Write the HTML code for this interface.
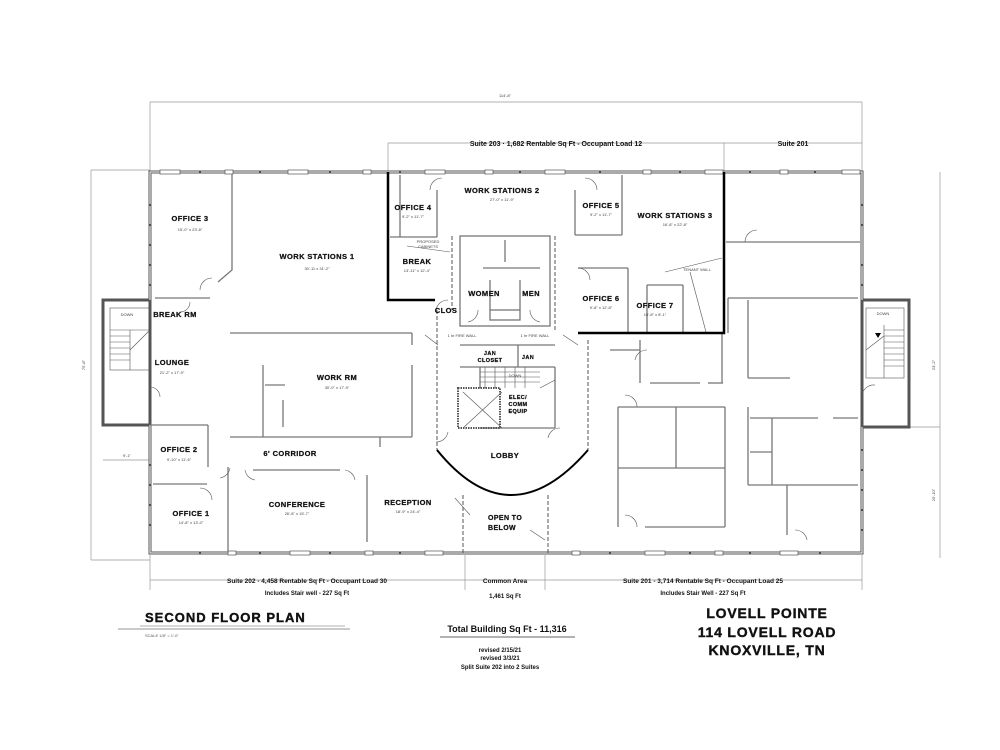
<!DOCTYPE html>
<html><head><meta charset="utf-8"><style>
html,body{margin:0;padding:0;background:#fff}
svg{display:block}
text{font-family:"Liberation Sans",sans-serif;fill:#111}
.b{font-weight:bold;font-size:7.5px;text-anchor:middle;letter-spacing:0.4px;stroke:#111;stroke-width:0.25}
.s{font-size:4px;text-anchor:middle;fill:#444}
.w{fill:none;stroke:#555;stroke-width:3}
.wi{fill:none;stroke:#fff;stroke-width:1}
.p{fill:none;stroke:#777;stroke-width:1.3}
.th{fill:none;stroke:#000;stroke-width:2.5}
.d{fill:none;stroke:#555;stroke-width:0.6}
.dim{fill:none;stroke:#999;stroke-width:0.7}
</style></head><body>
<svg width="1000" height="750" viewBox="0 0 1000 750" xmlns="http://www.w3.org/2000/svg">
<g class="dim">
<line x1="150" y1="102" x2="862" y2="102"/>
<line x1="150" y1="102" x2="150" y2="172"/><line x1="862" y1="102" x2="862" y2="172"/>
<line x1="388" y1="143" x2="862" y2="143"/>
<line x1="388" y1="143" x2="388" y2="172"/><line x1="724" y1="143" x2="724" y2="172"/>
<line x1="91" y1="170" x2="91" y2="560"/><line x1="91" y1="170" x2="150" y2="170"/>
<line x1="91" y1="560" x2="150" y2="560"/>
<line x1="940" y1="172" x2="940" y2="558"/><line x1="909" y1="427" x2="940" y2="427"/>
<line x1="150" y1="580" x2="862" y2="580"/>
<line x1="150" y1="555" x2="150" y2="590"/><line x1="862" y1="555" x2="862" y2="590"/>
<line x1="465" y1="555" x2="465" y2="590"/><line x1="545" y1="555" x2="545" y2="590"/>
<line x1="103" y1="460" x2="150" y2="460"/>
</g>
<text x="505" y="97" class="s">114'-8"</text>
<text x="85" y="365" class="s" transform="rotate(-90 85 365)">75'-8"</text>
<text x="935" y="365" class="s" transform="rotate(-90 935 365)">23'-2"</text>
<text x="935" y="495" class="s" transform="rotate(-90 935 495)">25'-10"</text>
<text x="127" y="457" class="s">9'-1"</text>

<g class="w">
<polyline points="150,300 150,172 862,172 862,300"/>
<polyline points="150,425 150,553 862,553 862,427"/>
<rect x="103" y="300" width="47" height="125"/>
<rect x="862" y="300" width="47" height="127"/>
</g>
<g class="wi">
<polyline points="150,300 150,172 862,172 862,300"/>
<polyline points="150,425 150,553 862,553 862,427"/>
</g>
<g fill="#fff" stroke="#555" stroke-width="0.7">
<rect x="160" y="170" width="20" height="4"/><rect x="225" y="170" width="8" height="4"/>
<rect x="288" y="170" width="20" height="4"/><rect x="363" y="170" width="8" height="4"/>
<rect x="425" y="170" width="20" height="4"/><rect x="485" y="170" width="8" height="4"/>
<rect x="545" y="170" width="20" height="4"/><rect x="643" y="170" width="8" height="4"/>
<rect x="705" y="170" width="18" height="4"/><rect x="780" y="170" width="8" height="4"/>
<rect x="842" y="170" width="18" height="4"/>
<rect x="228" y="551" width="8" height="4"/><rect x="290" y="551" width="20" height="4"/>
<rect x="365" y="551" width="8" height="4"/><rect x="425" y="551" width="18" height="4"/>
<rect x="572" y="551" width="8" height="4"/><rect x="645" y="551" width="20" height="4"/>
<rect x="715" y="551" width="8" height="4"/><rect x="780" y="551" width="18" height="4"/>
</g>
<g fill="#444">
<circle cx="150" cy="205" r="1"/><circle cx="150" cy="225" r="1"/><circle cx="150" cy="245" r="1"/><circle cx="150" cy="265" r="1"/><circle cx="150" cy="285" r="1"/>
<circle cx="150" cy="465" r="1"/><circle cx="150" cy="485" r="1"/><circle cx="150" cy="505" r="1"/><circle cx="150" cy="525" r="1"/>
<circle cx="862" cy="205" r="1"/><circle cx="862" cy="225" r="1"/><circle cx="862" cy="265" r="1"/><circle cx="862" cy="285" r="1"/>
<circle cx="862" cy="450" r="1"/><circle cx="862" cy="470" r="1"/><circle cx="862" cy="490" r="1"/><circle cx="862" cy="510" r="1"/><circle cx="862" cy="530" r="1"/>
<circle cx="200" cy="172" r="1"/><circle cx="260" cy="172" r="1"/><circle cx="330" cy="172" r="1"/><circle cx="400" cy="172" r="1"/><circle cx="520" cy="172" r="1"/><circle cx="600" cy="172" r="1"/><circle cx="680" cy="172" r="1"/><circle cx="750" cy="172" r="1"/><circle cx="815" cy="172" r="1"/>
<circle cx="200" cy="553" r="1"/><circle cx="260" cy="553" r="1"/><circle cx="330" cy="553" r="1"/><circle cx="400" cy="553" r="1"/><circle cx="610" cy="553" r="1"/><circle cx="690" cy="553" r="1"/><circle cx="750" cy="553" r="1"/><circle cx="820" cy="553" r="1"/>
</g>
<g class="d">
<rect x="110" y="308" width="40" height="62"/>
<line x1="110" y1="330" x2="150" y2="330"/><line x1="110" y1="336" x2="130" y2="336"/>
<line x1="110" y1="342" x2="130" y2="342"/><line x1="110" y1="348" x2="130" y2="348"/>
<line x1="110" y1="354" x2="130" y2="354"/><line x1="110" y1="360" x2="130" y2="360"/>
<line x1="130" y1="330" x2="130" y2="370"/><line x1="130" y1="350" x2="150" y2="330"/>
<rect x="866" y="308" width="38" height="70"/>
<line x1="884" y1="330" x2="904" y2="330"/><line x1="884" y1="336" x2="904" y2="336"/>
<line x1="884" y1="342" x2="904" y2="342"/><line x1="884" y1="348" x2="904" y2="348"/>
<line x1="884" y1="354" x2="904" y2="354"/><line x1="884" y1="360" x2="904" y2="360"/>
<line x1="884" y1="366" x2="904" y2="366"/><line x1="884" y1="325" x2="884" y2="378"/>
<line x1="866" y1="350" x2="884" y2="336"/>
</g>
<text x="127" y="316" class="s">DOWN</text><text x="883" y="315" class="s">DOWN</text>
<polygon points="875,333 881,333 878,338" fill="#000"/>

<g class="p">
<polyline points="232,174 232,270 218,282"/>
<line x1="155" y1="298" x2="210" y2="298"/>
<line x1="230" y1="333" x2="412" y2="333"/><line x1="412" y1="333" x2="412" y2="345"/>
<line x1="263" y1="365" x2="263" y2="437"/><line x1="265" y1="385" x2="285" y2="385"/>
<line x1="283" y1="400" x2="283" y2="427"/>
<line x1="230" y1="437" x2="412" y2="437"/><line x1="412" y1="365" x2="412" y2="437"/>
<line x1="380" y1="437" x2="380" y2="447"/>
<line x1="150" y1="425" x2="208" y2="425"/><line x1="208" y1="425" x2="208" y2="467"/>
<line x1="153" y1="484" x2="207" y2="484"/>
<line x1="228" y1="467" x2="228" y2="553"/>
<line x1="253" y1="470" x2="340" y2="470"/>
<line x1="367" y1="475" x2="367" y2="542"/>
<line x1="400" y1="175" x2="400" y2="237"/><line x1="390" y1="237" x2="437" y2="237"/>
<line x1="437" y1="190" x2="437" y2="237"/>
<line x1="575" y1="190" x2="575" y2="235"/><line x1="575" y1="235" x2="622" y2="235"/>
<line x1="622" y1="175" x2="622" y2="235"/>
<line x1="578" y1="268" x2="628" y2="268"/><line x1="628" y1="268" x2="628" y2="333"/>
<line x1="647" y1="285" x2="683" y2="285"/><line x1="647" y1="285" x2="647" y2="333"/>
<line x1="683" y1="285" x2="683" y2="333"/>
<line x1="726" y1="242" x2="860" y2="242"/>
<line x1="728" y1="298" x2="728" y2="333"/><line x1="728" y1="298" x2="858" y2="298"/>
<line x1="650" y1="383" x2="700" y2="383"/><line x1="708" y1="383" x2="723" y2="383"/>
<line x1="722" y1="333" x2="722" y2="383"/>
<line x1="618" y1="407" x2="725" y2="407"/><line x1="725" y1="407" x2="725" y2="527"/>
<line x1="618" y1="407" x2="618" y2="527"/><line x1="676" y1="407" x2="676" y2="468"/>
<line x1="618" y1="468" x2="725" y2="468"/><line x1="645" y1="527" x2="725" y2="527"/>
<line x1="748" y1="407" x2="748" y2="485"/><line x1="748" y1="485" x2="858" y2="485"/>
<line x1="750" y1="418" x2="818" y2="418"/><line x1="833" y1="418" x2="858" y2="418"/>
<line x1="772" y1="418" x2="772" y2="485"/><line x1="750" y1="452" x2="772" y2="452"/>
<line x1="787" y1="485" x2="787" y2="535"/>
<line x1="748" y1="300" x2="748" y2="378"/><line x1="748" y1="378" x2="790" y2="378"/>
<line x1="640" y1="340" x2="640" y2="383"/><line x1="610" y1="350" x2="640" y2="350"/>
<rect x="460" y="236" width="90" height="90"/>
<line x1="505" y1="240" x2="505" y2="262"/>
<line x1="483" y1="268" x2="540" y2="268"/>
<line x1="490" y1="280" x2="490" y2="310"/><line x1="520" y1="280" x2="520" y2="310"/>
<rect x="490" y="310" width="30" height="10"/>
<line x1="460" y1="345" x2="555" y2="345"/><line x1="460" y1="367" x2="555" y2="367"/>
<line x1="518" y1="345" x2="518" y2="367"/>
<line x1="480" y1="367" x2="480" y2="388"/><line x1="555" y1="367" x2="555" y2="428"/>
<line x1="480" y1="428" x2="555" y2="428"/>
</g>
<g class="d">
<line x1="480" y1="372" x2="540" y2="372"/><line x1="480" y1="377" x2="540" y2="377"/>
<line x1="480" y1="382" x2="540" y2="382"/><line x1="485" y1="367" x2="485" y2="388"/>
<line x1="495" y1="367" x2="495" y2="388"/><line x1="505" y1="367" x2="505" y2="388"/>
<line x1="515" y1="367" x2="515" y2="388"/><line x1="525" y1="367" x2="525" y2="388"/>
<line x1="540" y1="388" x2="555" y2="380"/>
<line x1="463" y1="392" x2="502" y2="428"/><line x1="502" y1="392" x2="463" y2="428"/>
<line x1="425" y1="335" x2="438" y2="345"/><line x1="563" y1="335" x2="578" y2="345"/>
<line x1="665" y1="272" x2="722" y2="258"/><line x1="690" y1="272" x2="706" y2="332"/>
<line x1="407" y1="246" x2="450" y2="252"/>
<line x1="455" y1="498" x2="470" y2="515"/><line x1="530" y1="530" x2="545" y2="540"/>
<path d="M200,290 A12,12 0 0 1 212,278"/>
<path d="M430,190 A12,12 0 0 1 442,178"/>
<path d="M585,178 A12,12 0 0 1 597,190"/>
<path d="M745,242 A12,12 0 0 1 757,230"/>
<path d="M578,268 A12,12 0 0 1 590,280"/>
<path d="M180,312 A10,10 0 0 0 190,302"/>
<path d="M200,488 A12,12 0 0 1 212,500"/>
<path d="M220,478 A12,12 0 0 0 230,468"/>
<path d="M245,470 A12,12 0 0 0 255,480"/>
<path d="M355,480 A12,12 0 0 0 345,470"/>
<path d="M436,442 A12,12 0 0 0 448,432"/>
<path d="M540,322 A12,12 0 0 1 530,310"/>
<path d="M468,322 A12,12 0 0 0 478,310"/>
<path d="M436,310 A12,12 0 0 1 448,300"/>
<path d="M625,515 A12,12 0 0 1 637,527"/>
<path d="M795,530 A12,12 0 0 1 807,540"/>
<path d="M635,360 A12,12 0 0 1 647,350"/>
<path d="M625,395 A12,12 0 0 1 637,407"/>
<path d="M862,395 A12,12 0 0 1 875,385"/>
<path d="M150,387 A10,10 0 0 1 160,397"/>
<path d="M548,438 A12,12 0 0 1 560,428"/>
</g>
<g class="th">
<polyline points="388,172 388,300 435,300"/>
<polyline points="724,172 724,333 578,333"/>
</g>
<g fill="none" stroke="#555" stroke-width="1" stroke-dasharray="4,2">
<line x1="437" y1="310" x2="437" y2="450"/>
<line x1="588" y1="340" x2="588" y2="450"/>
<line x1="463" y1="495" x2="463" y2="555"/>
<line x1="548" y1="495" x2="548" y2="555"/>
<line x1="452" y1="236" x2="452" y2="310"/>
<line x1="555" y1="236" x2="555" y2="330"/>
</g>
<path d="M437,450 Q510,540 588,450" fill="none" stroke="#000" stroke-width="2"/>
<rect x="458" y="388" width="42" height="40" fill="none" stroke="#555" stroke-width="2" stroke-dasharray="1.5,1"/>

<text x="190" y="221" class="b">OFFICE 3</text><text x="190" y="231" class="s">15'-0" x 23'-8"</text>
<text x="317" y="259" class="b">WORK STATIONS 1</text><text x="317" y="270" class="s">30'-11 x 31'-2"</text>
<text x="175" y="317" class="b">BREAK RM</text>
<text x="172" y="365" class="b">LOUNGE</text><text x="172" y="374" class="s">21'-2" x 17'-9"</text>
<text x="337" y="380" class="b">WORK RM</text><text x="337" y="389" class="s">30'-0" x 17'-9"</text>
<text x="290" y="456" class="b">6' CORRIDOR</text>
<text x="179" y="452" class="b">OFFICE 2</text><text x="179" y="461" class="s">9'-10" x 11'-6"</text>
<text x="191" y="516" class="b">OFFICE 1</text><text x="191" y="524" class="s">14'-8" x 13'-0"</text>
<text x="297" y="507" class="b">CONFERENCE</text><text x="297" y="515" class="s">26'-8" x 15'-7"</text>
<text x="408" y="505" class="b">RECEPTION</text><text x="408" y="513" class="s">18'-9" x 24'-4"</text>
<text x="413" y="210" class="b">OFFICE 4</text><text x="413" y="218" class="s">9'-2" x 11'-7"</text>
<text x="417" y="264" class="b">BREAK</text><text x="417" y="272" class="s">13'-11" x 12'-4"</text>
<text x="428" y="243" class="s">PROPOSED</text><text x="428" y="248" class="s">CABINETS</text>
<text x="502" y="193" class="b">WORK STATIONS 2</text><text x="502" y="201" class="s">27'-0" x 11'-9"</text>
<text x="601" y="208" class="b">OFFICE 5</text><text x="601" y="216" class="s">9'-2" x 11'-7"</text>
<text x="675" y="218" class="b">WORK STATIONS 3</text><text x="675" y="226" class="s">16'-8" x 22'-8"</text>
<text x="484" y="296" class="b">WOMEN</text><text x="531" y="296" class="b">MEN</text>
<text x="446" y="313" class="b">CLOS</text>
<text x="601" y="301" class="b">OFFICE 6</text><text x="601" y="309" class="s">9'-8" x 12'-8"</text>
<text x="655" y="308" class="b">OFFICE 7</text><text x="655" y="316" class="s">10'-8" x 8'-1"</text>
<text x="697" y="271" class="s">TENANT WALL</text>
<text x="462" y="337" class="s">1 hr FIRE WALL</text><text x="535" y="337" class="s">1 hr FIRE WALL</text>
<text x="490" y="355" class="b" style="font-size:5.5px">JAN</text><text x="490" y="362" class="b" style="font-size:5.5px">CLOSET</text>
<text x="528" y="359" class="b" style="font-size:5.5px">JAN</text>
<text x="515" y="377" class="s">DOWN</text>
<text x="518" y="399" class="b" style="font-size:5.5px">ELEC/</text><text x="518" y="406" class="b" style="font-size:5.5px">COMM</text><text x="518" y="413" class="b" style="font-size:5.5px">EQUIP</text>
<text x="505" y="458" class="b">LOBBY</text>
<text x="488" y="520" class="b" style="text-anchor:start;font-size:7px">OPEN TO</text>
<text x="488" y="530" class="b" style="text-anchor:start;font-size:7px">BELOW</text>

<text x="556" y="146" style="font-size:7px;font-weight:bold;text-anchor:middle">Suite 203  ·  1,682 Rentable Sq Ft - Occupant Load 12</text>
<text x="793" y="146" style="font-size:7px;font-weight:bold;text-anchor:middle">Suite 201</text>
<text x="307" y="583" style="font-size:6.5px;font-weight:bold;text-anchor:middle">Suite  202  -  4,458 Rentable Sq Ft  -  Occupant Load 30</text>
<text x="307" y="595" style="font-size:6px;font-weight:bold;text-anchor:middle">Includes Stair well - 227 Sq Ft</text>
<text x="505" y="583" style="font-size:6.5px;font-weight:bold;text-anchor:middle">Common  Area</text>
<text x="505" y="598" style="font-size:6px;font-weight:bold;text-anchor:middle">1,461 Sq Ft</text>
<text x="703" y="583" style="font-size:6.5px;font-weight:bold;text-anchor:middle">Suite  201  -  3,714 Rentable Sq Ft  -  Occupant Load 25</text>
<text x="703" y="595" style="font-size:6px;font-weight:bold;text-anchor:middle">Includes Stair Well - 227 Sq Ft</text>

<text x="145" y="622" style="font-size:13px;font-weight:bold;letter-spacing:1px;stroke:#111;stroke-width:0.4">SECOND FLOOR PLAN</text>
<line x1="140" y1="626" x2="345" y2="626" stroke="#999" stroke-width="0.8"/>
<line x1="118" y1="629" x2="350" y2="629" stroke="#aaa" stroke-width="1.2"/>
<text x="145" y="637" style="font-size:4px;fill:#555">SCALE 1/8" = 1'-0"</text>
<text x="507" y="632" style="font-size:9px;font-weight:bold;text-anchor:middle">Total Building Sq Ft - 11,316</text>
<line x1="440" y1="637" x2="575" y2="637" stroke="#333" stroke-width="0.8"/>
<text x="500" y="652" style="font-size:6px;font-weight:bold;text-anchor:middle">revised  2/15/21</text>
<text x="500" y="660" style="font-size:6px;font-weight:bold;text-anchor:middle">revised  3/3/21</text>
<text x="500" y="669" style="font-size:6px;font-weight:bold;text-anchor:middle">Split Suite 202 into 2 Suites</text>
<text x="767" y="618" style="font-size:14px;font-weight:bold;text-anchor:middle;letter-spacing:0.8px;stroke:#111;stroke-width:0.4">LOVELL  POINTE</text>
<text x="767" y="637" style="font-size:14px;font-weight:bold;text-anchor:middle;letter-spacing:0.8px;stroke:#111;stroke-width:0.4">114  LOVELL  ROAD</text>
<text x="767" y="655" style="font-size:14px;font-weight:bold;text-anchor:middle;letter-spacing:0.8px;stroke:#111;stroke-width:0.4">KNOXVILLE, TN</text>
</svg>
</body></html>
